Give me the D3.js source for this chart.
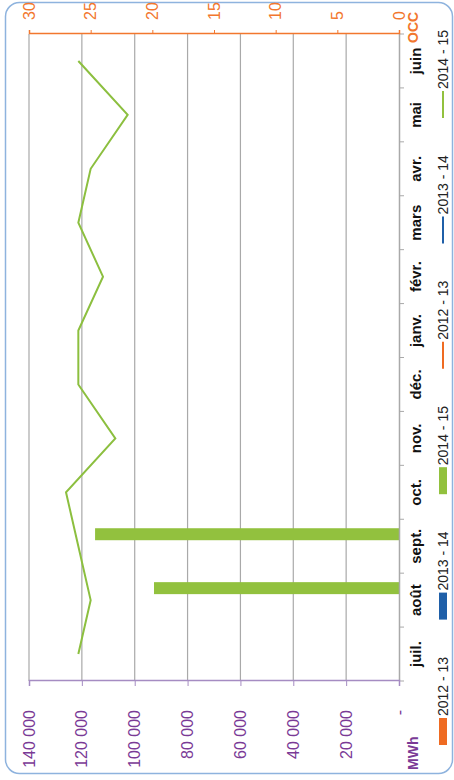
<!DOCTYPE html>
<html>
<head>
<meta charset="utf-8">
<title>MWh / OCC</title>
<style>
  body { margin: 0; background: #fff; }
  svg { display: block; font-family: "Liberation Sans", Arial, sans-serif; }
</style>
</head>
<body>
<svg width="454" height="780"></svg>
<script src="https://d3js.org/d3.v7.min.js"></script>
<script>
// data
var months = ["juil.", "août", "sept.", "oct.", "nov.", "déc.", "janv.", "févr.", "mars", "avr.", "mai", "juin"];
var seasons = ["2012 - 13", "2013 - 14", "2014 - 15"];
var mwh2012 = [null, null, null, null, null, null, null, null, null, null, null, null];
var mwh2013 = [null, null, null, null, null, null, null, null, null, null, null, null];
var mwh2014 = [null, 92700, 115000, null, null, null, null, null, null, null, null, null];
var occ2012 = [null, null, null, null, null, null, null, null, null, null, null, null];
var occ2013 = [null, null, null, null, null, null, null, null, null, null, null, null];
var occ2014 = [26, 25, 26, 27, 23, 26, 26, 24, 26, 25, 22, 26];
var mwhTicks = [0, 20000, 40000, 60000, 80000, 100000, 120000, 140000];
var occTicks = [0, 5, 10, 15, 20, 25, 30];

var colors = ["#ef6b22", "#1f5fa8", "#92c13e"];
var purple = "#7a3a96", orange = "#f2772e";

var svg = d3.select("svg");

// frame
svg.append("rect")
    .attr("x", 5.5).attr("y", 2.5)
    .attr("width", 447).attr("height", 771)
    .attr("rx", 14)
    .attr("fill", "none")
    .attr("stroke", "#8eb3de")
    .attr("stroke-width", 1.5);

// chart drawn in its normal orientation, then turned a quarter left
var W = 780;
var g = svg.append("g").attr("transform", "translate(0," + W + ") rotate(-90)");

var x = d3.scaleBand().domain(months).range([99, 746]);
var yL = d3.scaleLinear().domain([0, 140000]).range([399, 29]);
var yR = d3.scaleLinear().domain([0, 30]).range([399, 29]);
var xs = d3.scaleBand().domain(seasons).range([0, x.bandwidth()]).paddingInner(0).paddingOuter(0.75);

// grid
g.append("g").selectAll("line")
  .data(mwhTicks.slice(1))
  .enter().append("line")
    .attr("x1", 99).attr("x2", 746)
    .attr("y1", function(d) { return yL(d); })
    .attr("y2", function(d) { return yL(d); })
    .attr("stroke", "#a9a9a9")
    .attr("stroke-width", 1.2);

// bars
var mwh = [mwh2012, mwh2013, mwh2014];
seasons.forEach(function(s, i) {
  g.append("g").selectAll("rect")
    .data(months.map(function(m, j) { return {m: m, v: mwh[i][j]}; }).filter(function(d) { return d.v != null; }))
    .enter().append("rect")
      .attr("x", function(d) { return x(d.m) + xs(s); })
      .attr("width", xs.bandwidth())
      .attr("y", function(d) { return yL(d.v); })
      .attr("height", function(d) { return yL(0) - yL(d.v); })
      .attr("fill", colors[i]);
});

// category axis
var xa = g.append("g").attr("transform", "translate(0,399)")
    .call(d3.axisBottom(x).tickSize(0).tickPadding(0).tickFormat(""));
xa.select(".domain").attr("stroke", "#a9a9a9").attr("stroke-width", 1.5);
g.append("g").selectAll("line")
  .data(d3.range(months.length + 1))
  .enter().append("line")
    .attr("x1", function(d) { return 99 + d * x.step(); })
    .attr("x2", function(d) { return 99 + d * x.step(); })
    .attr("y1", 399).attr("y2", 404)
    .attr("stroke", "#a9a9a9");
g.append("g").selectAll("text")
  .data(months)
  .enter().append("text")
    .attr("x", function(d) { return x(d) + x.bandwidth() / 2; })
    .attr("y", 421)
    .attr("text-anchor", "middle")
    .attr("font-size", 15)
    .attr("font-weight", "bold")
    .attr("fill", "#111")
    .text(function(d) { return d; });

// left axis (MWh)
var la = g.append("g").attr("transform", "translate(99,0)")
    .call(d3.axisLeft(yL).tickValues(mwhTicks).tickSize(5).tickPadding(24)
      .tickFormat(function(d) { return d === 0 ? "-" : d3.format(",")(d).replace(/,/g, " "); }));
la.select(".domain").attr("stroke", "#a58cc2").attr("stroke-width", 1.5);
la.selectAll("line").attr("stroke", "#a58cc2");
la.selectAll("text").attr("fill", purple).attr("font-size", 16).attr("font-family", null);

// right axis (OCC)
var ra = g.append("g").attr("transform", "translate(746,0)")
    .call(d3.axisRight(yR).tickValues(occTicks).tickSize(4).tickPadding(10));
ra.select(".domain").attr("stroke", orange).attr("stroke-width", 1.5);
ra.selectAll("line").attr("stroke", orange);
ra.selectAll("text").attr("fill", orange).attr("font-size", 16).attr("font-family", null);

// lines
var occ = [occ2012, occ2013, occ2014];
var line = d3.line()
    .defined(function(d) { return d.v != null; })
    .x(function(d) { return x(d.m) + x.bandwidth() / 2; })
    .y(function(d) { return yR(d.v); });
seasons.forEach(function(s, i) {
  g.append("path")
    .datum(months.map(function(m, j) { return {m: m, v: occ[i][j]}; }))
    .attr("fill", "none")
    .attr("stroke", colors[i] === "#92c13e" ? "#8cbf3f" : colors[i])
    .attr("stroke-width", 2)
    .attr("d", line);
});

// axis titles
g.append("text").attr("x", 10).attr("y", 418)
    .attr("font-size", 14).attr("font-weight", "bold").attr("fill", purple).text("MWh");
g.append("text").attr("x", 737).attr("y", 418)
    .attr("font-size", 14).attr("font-weight", "bold").attr("fill", orange).text("OCC");

// legend
var legend = [];
seasons.forEach(function(s, i) { legend.push({name: s, kind: "bar", c: colors[i]}); });
seasons.forEach(function(s, i) { legend.push({name: s, kind: "line", c: colors[i]}); });
var lg = g.append("g").selectAll("g")
  .data(legend)
  .enter().append("g")
    .attr("transform", function(d, i) { return "translate(" + (35 + i * 125.4) + ",443)"; });
lg.filter(function(d) { return d.kind === "bar"; }).append("rect")
    .attr("x", 0).attr("y", -4).attr("width", 27).attr("height", 8)
    .attr("fill", function(d) { return d.c; });
lg.filter(function(d) { return d.kind === "line"; }).append("line")
    .attr("x1", 0).attr("x2", 27).attr("y1", 0).attr("y2", 0)
    .attr("stroke", function(d) { return d.c; }).attr("stroke-width", 2);
lg.append("text")
    .attr("x", 29).attr("y", 5)
    .attr("font-size", 14).attr("fill", "#222")
    .text(function(d) { return d.name; });
</script>
</body>
</html>
